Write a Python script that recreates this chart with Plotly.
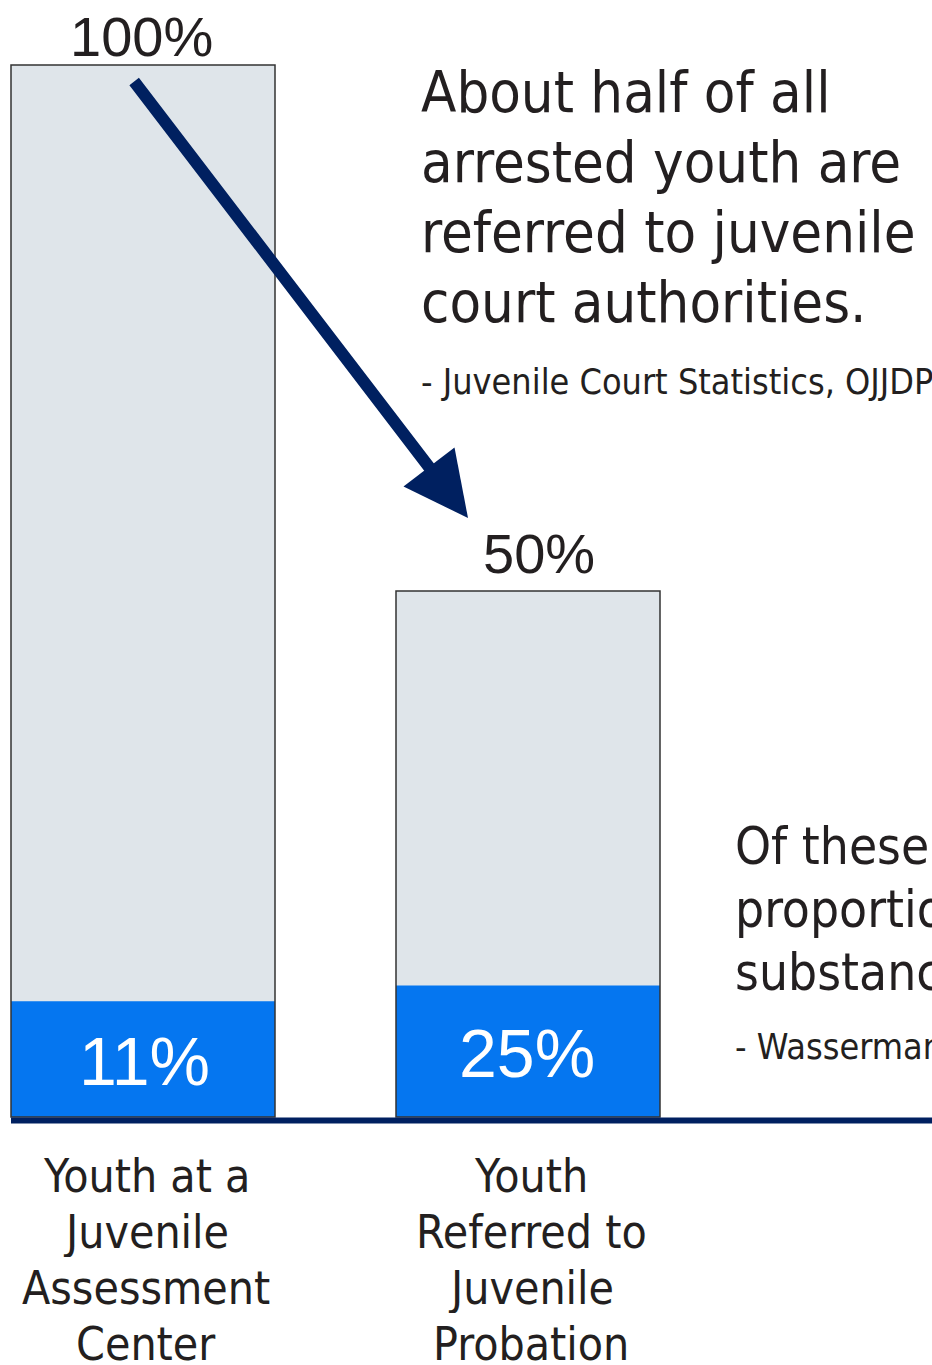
import plotly.graph_objects as go

# ---- data ----
categories = [0, 1]
category_labels = [
    ["Youth at a", "Juvenile", "Assessment", "Center"],
    ["Youth", "Referred to", "Juvenile", "Probation"],
]
total_pct = [100, 50]            # bar heights (share of arrested youth)
total_labels = ["100%", "50%"]
sub_pct = [11, 12.5]             # blue portion (absolute scale)
sub_labels = ["11%", "25%"]
note1_lines = ["About half of all", "arrested youth are", "referred to juvenile", "court authorities."]
note1_source = "- Juvenile Court Statistics, OJJDP"
note2_lines = ["Of these", "proportion", "substance"]
note2_source = "- Wasserman"

# ---- page pixel <-> data helpers (whole figure is plot area) ----
W, H = 932, 1365
PX0, PXU = 143.0, 385.0       # pixel of x=0, pixels per category
PY0, PYU = 1117.0, 10.52      # pixel of y=0, pixels per percent
def dx(p):
    return (p - PX0) / PXU
def dy(p):
    return (PY0 - p) / PYU

GRAY = "#DFE5EA"
BLUE = "#0576F0"
NAVY = "#002060"
TXT = "#231F20"
HUM = "DejaVu Sans Condensed, DejaVu Sans"
ARIAL = "Liberation Sans, Arial"
BW = 264 / PXU

fig = go.Figure()
fig.add_trace(go.Bar(x=categories, y=total_pct, width=BW, marker=dict(color=GRAY, line=dict(width=0)),
                     hoverinfo="skip", showlegend=False))
fig.add_trace(go.Bar(x=categories, y=sub_pct, width=BW, marker=dict(color=BLUE, line=dict(width=0)),
                     hoverinfo="skip", showlegend=False))
fig.add_trace(go.Bar(x=categories, y=total_pct, width=BW,
                     marker=dict(color="rgba(0,0,0,0)", line=dict(width=1.5, color="#333333")),
                     hoverinfo="skip", showlegend=False))

ann = []
# value labels above bars
top_pos = [(141, 36), (539, 553)]
for lab, (px, py) in zip(total_labels, top_pos):
    ann.append(dict(x=dx(px), y=dy(py), text=lab, showarrow=False, xanchor="center", yanchor="middle",
                    font=dict(family=ARIAL, size=56, color=TXT)))
sub_pos = [(144, 1061), (527, 1053)]
for lab, (px, py) in zip(sub_labels, sub_pos):
    ann.append(dict(x=dx(px), y=dy(py), text=lab, showarrow=False, xanchor="center", yanchor="middle",
                    font=dict(family=ARIAL, size=68, color="white")))
# category labels
for c, lines in zip(categories, category_labels):
    for i, ln in enumerate(lines):
        ann.append(dict(x=c, y=dy(1176 + 56 * i), xshift=3, text=ln, showarrow=False, xanchor="center",
                        yanchor="middle", height=50, font=dict(family=HUM, size=46, color=TXT)))
# note 1
for i, ln in enumerate(note1_lines):
    ann.append(dict(x=dx(419), y=dy(92 + 70 * i), text=ln, showarrow=False, xanchor="left", yanchor="middle",
                    font=dict(family=HUM, size=57.5, color=TXT)))
ann.append(dict(x=dx(419), y=dy(381), text=note1_source, showarrow=False, xanchor="left", yanchor="middle",
                font=dict(family=HUM, size=35.7, color=TXT)))
# note 2
for i, ln in enumerate(note2_lines):
    ann.append(dict(x=dx(733), y=dy(846 + 63 * i), text=ln, showarrow=False, xanchor="left", yanchor="middle",
                    font=dict(family=HUM, size=51, color=TXT)))
ann.append(dict(x=dx(733), y=dy(1046), text=note2_source, showarrow=False, xanchor="left", yanchor="middle",
                font=dict(family=HUM, size=35.7, color=TXT)))
# arrow
ann.append(dict(x=dx(468), y=dy(518), ax=dx(133), ay=dy(80), axref="x", ayref="y", xref="x", yref="y",
                text="", showarrow=True, arrowhead=2, arrowsize=1.07, arrowwidth=12, arrowcolor=NAVY,
                standoff=0, startstandoff=0))

fig.update_layout(
    width=W, height=H,
    margin=dict(l=0, r=0, t=0, b=0),
    paper_bgcolor="white", plot_bgcolor="white",
    barmode="overlay",
    xaxis=dict(range=[dx(0), dx(W)], visible=False, fixedrange=True),
    yaxis=dict(range=[dy(H), dy(0)], visible=False, fixedrange=True),
    annotations=ann,
    shapes=[dict(type="line", xref="x", yref="y", x0=dx(11), x1=dx(W + 5), y0=dy(1120.5), y1=dy(1120.5),
                 line=dict(color=NAVY, width=6), layer="above")],
)

fig.write_html("out.html", config={"displayModeBar": False},
               post_script="document.body.style.margin='0';document.body.style.overflow='hidden';")
